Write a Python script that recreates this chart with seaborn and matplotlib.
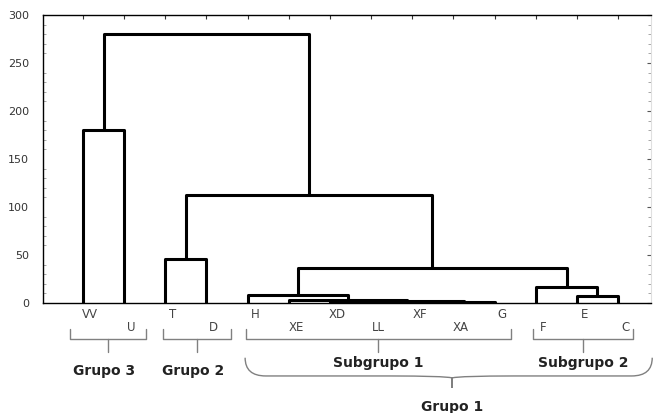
import matplotlib
matplotlib.use("Agg")
import matplotlib.pyplot as plt
from matplotlib.path import Path
from matplotlib.patches import PathPatch
from matplotlib.ticker import MultipleLocator
import numpy as np
import pandas as pd
import seaborn as sns

# ---- data ----
leaves = ["VV", "U", "T", "D", "H", "XE", "XD", "LL", "XF", "XA", "G", "F", "E", "C"]
# merges: (left cluster id, right cluster id, linkage distance); new ids start at 14
merge_left = [8, 14, 6, 16, 5, 4, 12, 11, 19, 2, 23, 0, 25]
merge_right = [9, 10, 7, 15, 17, 18, 13, 20, 21, 3, 22, 1, 24]
merge_height = [1.0, 1.5, 2.0, 2.5, 3.2, 8.0, 7.0, 17.0, 36.0, 46.0, 113.0, 180.0, 280.0]
group_names = ["Grupo 3", "Grupo 2", "Subgrupo 1", "Subgrupo 2"]
group_spans = [(-0.32, 1.53), (1.94, 3.60), (3.95, 10.40), (10.94, 13.37)]
big_group = "Grupo 1"
big_span = (3.94, 13.83)
yticks = [0, 50, 100, 150, 200, 250, 300]

sns.set_style("white")
plt.rcParams["font.family"] = ["DejaVu Sans"]

W, H = 654, 413
fig = plt.figure(figsize=(W / 100, H / 100), dpi=100)
ax = fig.add_axes([43 / W, 1 - 303 / H, (651 - 43) / W, (303 - 15) / H])

# ---- build dendrogram segments ----
pos = {i: float(i) for i in range(len(leaves))}
hgt = {i: 0.0 for i in range(len(leaves))}
rows = []
for k, (a, b, h) in enumerate(zip(merge_left, merge_right, merge_height)):
    nid = len(leaves) + k
    xs = [pos[a], pos[a], pos[b], pos[b]]
    ys = [hgt[a], h, h, hgt[b]]
    for j, (xx, yy) in enumerate(zip(xs, ys)):
        rows.append({"x": xx, "y": yy, "seg": k, "order": j})
    pos[nid] = (pos[a] + pos[b]) / 2
    hgt[nid] = h
df = pd.DataFrame(rows)
sns.lineplot(data=df, x="x", y="y", units="seg", estimator=None, sort=False,
             color="black", linewidth=2.2, ax=ax, legend=False)
ax.set_xlabel("")
ax.set_ylabel("")

ax.set_xlim(-0.97, 13.8)
ax.set_ylim(0, 300)
ax.set_yticks(yticks)
ax.yaxis.set_minor_locator(MultipleLocator(10))
ax.tick_params(axis="y", which="major", direction="in", length=3, labelsize=8,
               labelcolor="#333333", color="#555555", pad=10, right=True)
ax.tick_params(axis="y", which="minor", direction="in", length=2, color="#999999",
               left=True, right=True)
ax.set_xticks(range(len(leaves)))
ax.tick_params(axis="x", which="major", direction="in", length=3, bottom=False,
               top=True, labelbottom=False, color="#333333")
for s in ["left", "top", "bottom"]:
    ax.spines[s].set_color("black")
    ax.spines[s].set_linewidth(1.0)
ax.spines["right"].set_color("#e0e0e0")

# ---- leaf labels (alternating rows) ----
for i, name in enumerate(leaves):
    yy = -11.5 if i % 2 == 0 else -26
    ax.text(i + 0.18, yy, name, ha="center", va="center", fontsize=8.5,
            color="#444444", clip_on=False)

# ---- group brackets ----
bc = "#808080"
for name, (x0, x1) in zip(group_names, group_spans):
    xm = (x0 + x1) / 2
    ax.plot([x0, x0, x1, x1], [-27, -37.5, -37.5, -27], color=bc, lw=1.0, clip_on=False)
    ax.plot([xm, xm], [-37.5, -51], color=bc, lw=1.0, clip_on=False)
    ty = -71 if name.startswith("Grupo") else -62
    tx = xm - 0.1 if name.startswith("Grupo") else xm
    ax.text(tx, ty, name, ha="center", va="center", fontsize=10, fontweight="bold",
            color="#222222", clip_on=False)

# ---- curly brace for Grupo 1 ----
x0, x1 = big_span
xm = 8.97
yt, ymid, ytip = -57, -76, -88.5
verts = [(x0, yt), (x0, ymid), (x0 + 0.5, ymid), (xm - 1.5, ymid),
         (xm - 0.2, ymid), (xm, ymid - 2), (xm, ytip),
         (xm, ymid - 2), (xm + 0.2, ymid), (xm + 1.5, ymid),
         (x1 - 0.5, ymid), (x1, ymid), (x1, yt)]
codes = [Path.MOVETO, Path.CURVE3, Path.CURVE3, Path.LINETO,
         Path.CURVE3, Path.CURVE3, Path.LINETO,
         Path.LINETO, Path.CURVE3, Path.CURVE3,
         Path.LINETO, Path.CURVE3, Path.CURVE3]
brace = PathPatch(Path(verts, codes), fill=False, edgecolor=bc, lw=1.0, clip_on=False)
ax.add_patch(brace)
ax.text(xm, -108, big_group, ha="center", va="center", fontsize=10, fontweight="bold",
        color="#222222", clip_on=False)

fig.savefig("out.png", dpi=100)
